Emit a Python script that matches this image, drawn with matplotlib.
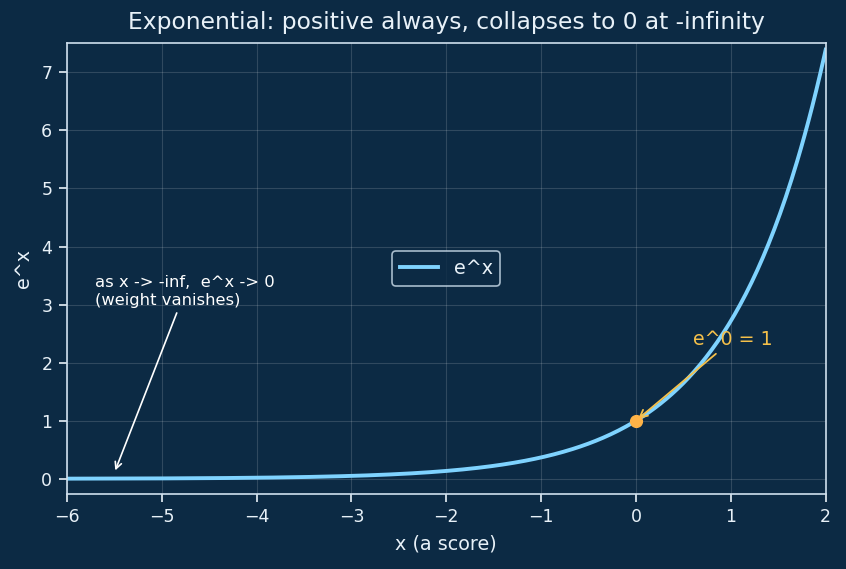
import matplotlib.pyplot as plt
import numpy as np

bg = '#0c2a44'
fg = '#e8f1f8'

x = np.linspace(-6, 2, 400)
y = np.exp(x)

fig = plt.figure(figsize=(8.46, 5.69), dpi=100, facecolor=bg)
ax = fig.add_axes([0.079, 0.132, 0.897, 0.792])
ax.set_facecolor(bg)

ax.plot(x, y, color='#7fd3ff', lw=2.8, label='e^x')
ax.plot([0], [1], 'o', color='#ffb347', ms=8.5, zorder=5)

ax.annotate('as x -> -inf,  e^x -> 0\n(weight vanishes)', xy=(-5.5, 0.1), xytext=(-5.7, 3.0),
            color='white', fontsize=11.8,
            arrowprops=dict(arrowstyle='->', color='white', lw=1.2))
ax.annotate('e^0 = 1', xy=(0, 1), xytext=(0.6, 2.3), color='#f5c04a', fontsize=13.7,
            arrowprops=dict(arrowstyle='->', color='#f5c04a', lw=1.3))

ax.set_xlim(-6, 2)
ax.set_ylim(-0.26, 7.5)
ax.grid(True, color='white', alpha=0.15, lw=0.8)
for s in ax.spines.values():
    s.set_color('#cfe0ee')
    s.set_linewidth(1.2)
ax.tick_params(colors=fg, labelsize=12.5, length=5.5, width=1.2, pad=5)
ax.set_title('Exponential: positive always, collapses to 0 at -infinity', color=fg, fontsize=16.8, pad=10)
ax.set_xlabel('x (a score)', color=fg, fontsize=13.8, labelpad=6)
ax.set_ylabel('e^x', color=fg, fontsize=13.8, labelpad=6)
leg = ax.legend(loc='center', fontsize=13.8, facecolor=bg, edgecolor='#cfe0ee', labelcolor=fg)
leg.get_frame().set_linewidth(1.2)

plt.savefig('out.png', facecolor=bg)
